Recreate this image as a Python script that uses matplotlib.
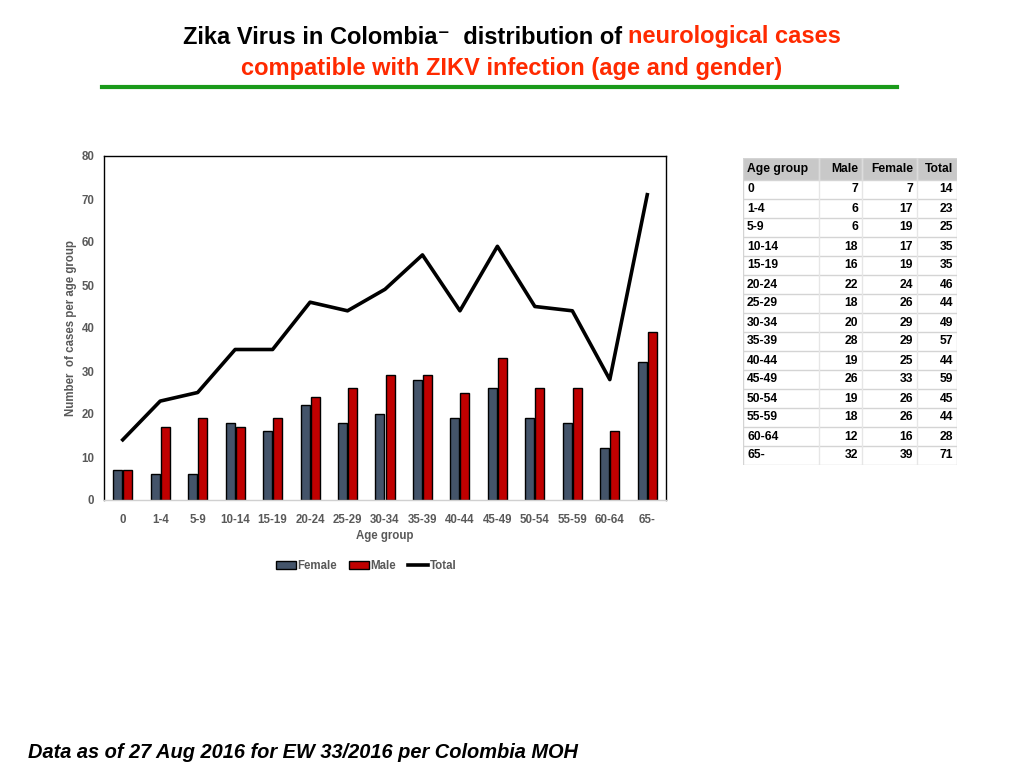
import matplotlib
matplotlib.use("Agg")
import matplotlib.pyplot as plt
from matplotlib.patches import Rectangle, Patch
from matplotlib.lines import Line2D
import numpy as np

age_groups = ["0", "1-4", "5-9", "10-14", "15-19", "20-24", "25-29", "30-34",
              "35-39", "40-44", "45-49", "50-54", "55-59", "60-64", "65-"]
female = [7, 6, 6, 18, 16, 22, 18, 20, 28, 19, 26, 19, 18, 12, 32]
male = [7, 17, 19, 17, 19, 24, 26, 29, 29, 25, 33, 26, 26, 16, 39]
total = [14, 23, 25, 35, 35, 46, 44, 49, 57, 44, 59, 45, 44, 28, 71]

# table as shown in the reference (columns labelled Male / Female)
table_male = [7, 6, 6, 18, 16, 22, 18, 20, 28, 19, 26, 19, 18, 12, 32]
table_female = [7, 17, 19, 17, 19, 24, 26, 29, 29, 25, 33, 26, 26, 16, 39]
table_total = [14, 23, 25, 35, 35, 46, 44, 49, 57, 44, 59, 45, 44, 28, 71]
table_header = ["Age group", "Male", "Female", "Total"]

plt.rcParams['font.family'] = ['Liberation Sans', 'DejaVu Sans']

W, H = 1024, 768
fig = plt.figure(figsize=(W / 100, H / 100), dpi=100)
fig.patch.set_facecolor("white")

def fx(px):
    return px / W

def fy(py):
    return 1 - py / H

# ---------- title ----------
RED = "#ff2a00"
renderer = fig.canvas.get_renderer()

def draw_line(parts, ycen, size):
    texts = []
    widths = []
    for s, c in parts:
        t = fig.text(0, fy(ycen), s, color=c, fontsize=size, fontweight="bold",
                     va="center", ha="left")
        texts.append(t)
        widths.append(t.get_window_extent(renderer).width)
    total_w = sum(widths)
    x = 512 - total_w / 2
    for t, w in zip(texts, widths):
        t.set_x(fx(x))
        x += w

draw_line([("Zika Virus in Colombia\u207b  distribution of ", "black"),
           ("neurological cases", RED)], 37, 17)
draw_line([("compatible with ZIKV infection (age and gender)", RED)], 68, 17)

fig.add_artist(Line2D([fx(102), fx(897)], [fy(87), fy(87)], color="#1a9a1a",
                      lw=3, transform=fig.transFigure))

# ---------- chart ----------
ax_l, ax_r, ax_t, ax_b = 104, 666, 156, 500
ax = fig.add_axes([fx(ax_l), fy(ax_b), fx(ax_r) - fx(ax_l), fy(ax_t) - fy(ax_b)])
x = np.arange(len(age_groups))
bw = 0.24
off = 0.135
ax.bar(x - off, female, bw, color="#44546a", edgecolor="black", linewidth=1,
       label="Female", zorder=2)
ax.bar(x + off, male, bw, color="#c00000", edgecolor="black", linewidth=1,
       label="Male", zorder=2)
ax.plot(x, total, color="black", lw=2.6, label="Total", zorder=3)

ax.set_xlim(-0.5, len(age_groups) - 0.5)
ax.set_ylim(0, 80)
ax.set_yticks(range(0, 81, 10))
ax.set_xticks(x)
ax.set_xticklabels(age_groups)
GRAY = "#595959"
ax.tick_params(axis="both", length=0, labelsize=8.3, labelcolor=GRAY)
ax.tick_params(axis="x", pad=10)
ax.tick_params(axis="y", pad=7)
for lab in ax.get_xticklabels() + ax.get_yticklabels():
    lab.set_fontweight("bold")
for s in ["left", "top", "right"]:
    ax.spines[s].set_color("black")
    ax.spines[s].set_linewidth(1)
ax.spines["bottom"].set_color("#d0d0d0")
ax.spines["bottom"].set_linewidth(1)
ax.set_xlabel("Age group", fontsize=8.3, fontweight="bold", color=GRAY, labelpad=3)
ax.text((71 - ax_l) / (ax_r - ax_l), 0.5, "Number  of cases per age group",
        transform=ax.transAxes, rotation=90, ha="center", va="center",
        fontsize=8.3, fontweight="bold", color=GRAY)

handles = [Patch(facecolor="#44546a", edgecolor="black", label="Female"),
           Patch(facecolor="#c00000", edgecolor="black", label="Male"),
           Line2D([0], [0], color="black", lw=2.6, label="Total")]
leg = fig.legend(handles=handles, loc="center", bbox_to_anchor=(fx(366), fy(566)),
                 ncol=3, frameon=False, fontsize=8.3, handlelength=1.8,
                 handletextpad=0.1, columnspacing=1.0, handleheight=0.7)
for t in leg.get_texts():
    t.set_color(GRAY)
    t.set_fontweight("bold")

# ---------- table ----------
tx0, tx1, ty0, ty1 = 743, 957, 158, 465
tax = fig.add_axes([fx(tx0), fy(ty1), fx(tx1) - fx(tx0), fy(ty0) - fy(ty1)])
tax.set_xlim(tx0, tx1)
tax.set_ylim(ty1, ty0)
tax.axis("off")
col_edges = [743, 819, 862, 917, 957]
header_h = 22
row_h = (ty1 - ty0 - header_h) / len(age_groups)
tax.add_patch(Rectangle((tx0, ty0), tx1 - tx0, header_h, facecolor="#c8c8c8",
                        edgecolor="none"))
GRID = "#d4d4d4"
for i in range(len(age_groups) + 1):
    yy = ty0 + header_h + i * row_h
    tax.plot([tx0, tx1], [yy, yy], color=GRID, lw=1)
tax.plot([tx0, tx1], [ty0, ty0], color=GRID, lw=1)
for xe in col_edges:
    tax.plot([xe, xe], [ty0, ty1], color=GRID if xe in (tx0, tx1) else "#e6e6e6", lw=1)
for xe in col_edges[1:-1]:
    tax.plot([xe, xe], [ty0, ty0 + header_h], color="#dcdcdc", lw=1)

TFS = 8.7
hy = ty0 + header_h / 2
tax.text(col_edges[0] + 4, hy, table_header[0], ha="left", va="center",
         fontsize=TFS, fontweight="bold")
for j in range(1, 4):
    tax.text(col_edges[j + 1] - 4, hy, table_header[j], ha="right", va="center",
             fontsize=TFS, fontweight="bold")
for i, g in enumerate(age_groups):
    yy = ty0 + header_h + (i + 0.5) * row_h
    tax.text(col_edges[0] + 4, yy, g, ha="left", va="center", fontsize=TFS,
             fontweight="bold")
    for j, col in enumerate([table_male, table_female, table_total]):
        tax.text(col_edges[j + 2] - 4, yy, str(col[i]), ha="right", va="center",
                 fontsize=TFS, fontweight="bold")

# ---------- footer ----------
fig.text(fx(28), fy(752), "Data as of 27 Aug 2016 for EW 33/2016 per Colombia MOH",
         fontsize=14.4, fontweight="bold", fontstyle="italic", va="center", ha="left")

fig.savefig("out.png", dpi=100)
